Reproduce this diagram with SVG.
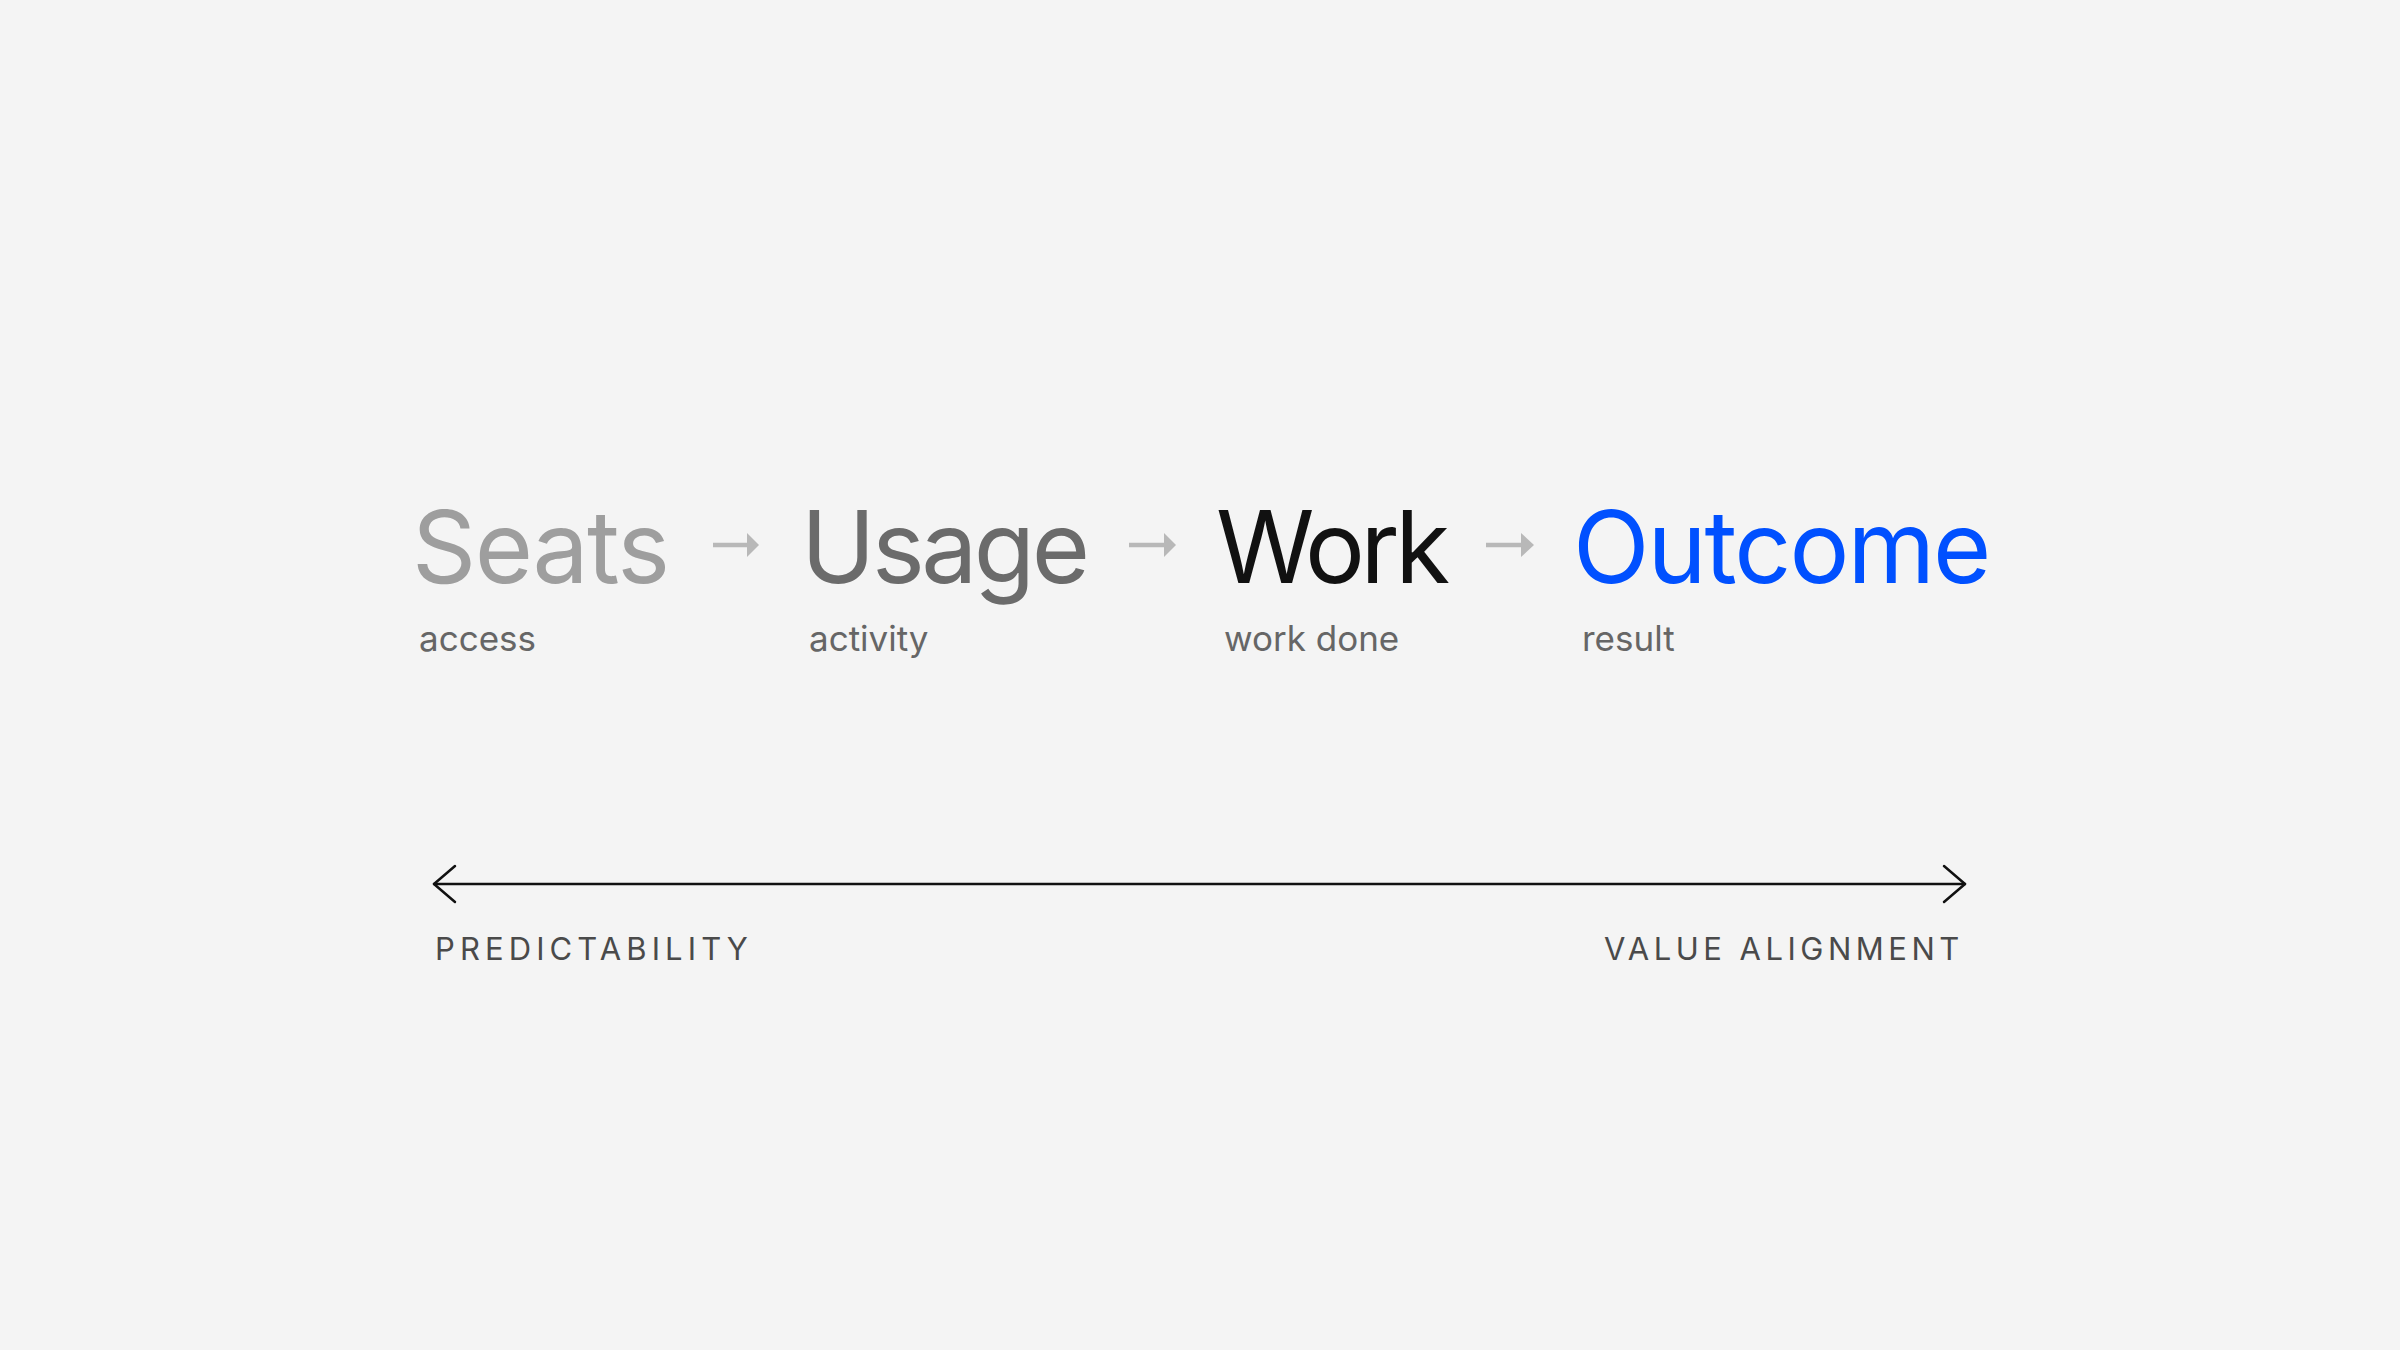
<svg xmlns="http://www.w3.org/2000/svg" width="2400" height="1350" viewBox="0 0 2400 1350">
<style>
.title{font-family:Inter,"Noto Sans","Liberation Sans",sans-serif;font-size:100px;font-weight:400;letter-spacing:-2px}
.sub{font-family:Inter,"Noto Sans","Liberation Sans",sans-serif;font-size:35px;fill:#666666}
.cap{font-family:Inter,"Noto Sans","Liberation Sans",sans-serif;font-size:31px;fill:#4a4a4a;letter-spacing:4.7px}
.step{stroke:#b8b8b8;stroke-width:4.5;fill:none}
.stephead{fill:#b8b8b8}
.axis{stroke:#111111;stroke-width:2.5;fill:none;stroke-linecap:round;stroke-linejoin:round}
</style>
<rect width="2400" height="1350" fill="#f4f4f4"/>
<g id="seats">
<text class="title" x="412" y="583" fill="#9e9e9e" style="letter-spacing:-1.5px">Seats</text>
<text class="sub" x="419" y="651">access</text>
</g>
<g id="usage">
<text class="title" x="801" y="583" fill="#6b6b6b" style="letter-spacing:-3.5px">Usage</text>
<text class="sub" x="809" y="651">activity</text>
</g>
<g id="work">
<text class="title" x="1216" y="583" fill="#111111" style="letter-spacing:-4.5px">Work</text>
<text class="sub" x="1224" y="651">work done</text>
</g>
<g id="outcome">
<text class="title" x="1573" y="583" fill="#0050ff">Outcome</text>
<text class="sub" x="1582" y="651">result</text>
</g>
<g id="connectors">
<line class="step" x1="713" y1="545" x2="749" y2="545"/>
<polygon class="stephead" points="747,533 759,545 747,557"/>
<line class="step" x1="1129" y1="545" x2="1166" y2="545"/>
<polygon class="stephead" points="1164,533 1176,545 1164,557"/>
<line class="step" x1="1486" y1="545" x2="1523" y2="545"/>
<polygon class="stephead" points="1521,533 1534,545 1521,557"/>
<line class="axis" x1="434" y1="884" x2="1965" y2="884"/>
<polyline class="axis" points="455,866 434,884 455,902"/>
<polyline class="axis" points="1944,866 1965,884 1944,902"/>
</g>
<g id="axis-labels">
<text class="cap" x="435" y="960" style="letter-spacing:5.1px">PREDICTABILITY</text>
<text class="cap" x="1604" y="960" style="letter-spacing:4.5px">VALUE ALIGNMENT</text>
</g>
</svg>
